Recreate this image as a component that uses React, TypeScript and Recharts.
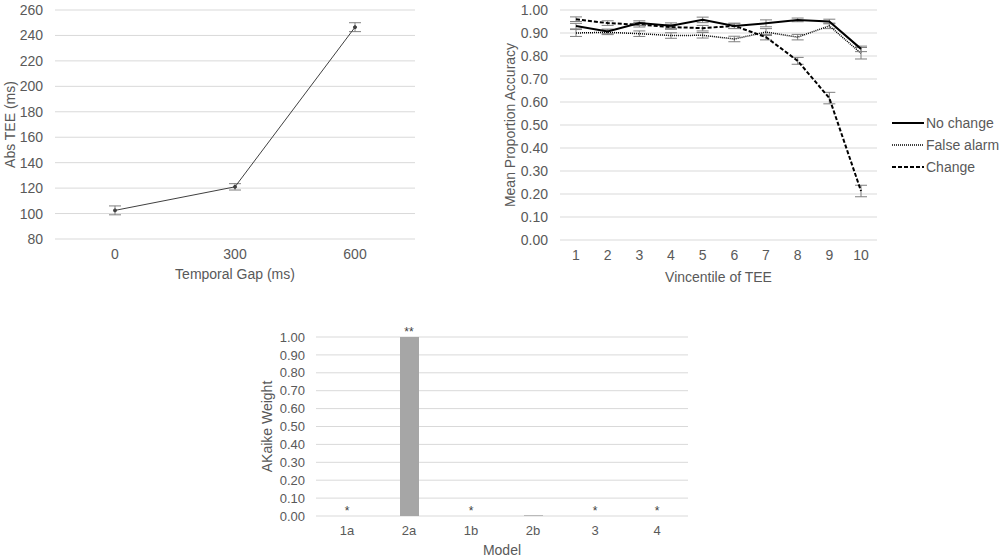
import React from "react";
import {
  LineChart,
  Line,
  ComposedChart,
  Bar,
  XAxis,
  YAxis,
  CartesianGrid,
  ErrorBar,
  LabelList,
} from "recharts";

// Top left: Abs TEE by temporal gap
const gapLabels = ["0", "300", "600"];
const teeMeans = [102.5, 121, 246.5];
const teeErr = [3.5, 2.5, 3.5];
const teeTicks = [80, 100, 120, 140, 160, 180, 200, 220, 240, 260];

// Top right: accuracy by vincentile
const vincentiles = ["1", "2", "3", "4", "5", "6", "7", "8", "9", "10"];
const noChange = [0.93, 0.907, 0.943, 0.932, 0.957, 0.93, 0.942, 0.957, 0.95, 0.831];
const noChangeErr = [0.012, 0.01, 0.01, 0.012, 0.012, 0.01, 0.015, 0.008, 0.01, 0.012];
const falseAlarm = [0.9, 0.903, 0.897, 0.889, 0.89, 0.874, 0.904, 0.882, 0.931, 0.812];
const falseAlarmErr = [0.015, 0.01, 0.012, 0.012, 0.012, 0.012, 0.015, 0.012, 0.012, 0.025];
const change = [0.96, 0.943, 0.936, 0.926, 0.921, 0.931, 0.882, 0.779, 0.617, 0.213];
const changeErr = [0.01, 0.01, 0.01, 0.01, 0.012, 0.012, 0.012, 0.015, 0.025, 0.025];
const accTicks = [0, 0.1, 0.2, 0.3, 0.4, 0.5, 0.6, 0.7, 0.8, 0.9, 1];

// Bottom: Akaike weights
const models = ["1a", "2a", "1b", "2b", "3", "4"];
const weights = [0, 1, 0, 0.004, 0, 0];
const marks = ["*", "**", "*", "", "*", "*"];

const FONT = "'Liberation Sans', Arial, sans-serif";
const TXT = "#595959";
const GRID = "#d9d9d9";
const ERR = "#7f7f7f";

const teeData = gapLabels.map((g, i) => ({ gap: g, tee: teeMeans[i], err: teeErr[i] }));
const accData = vincentiles.map((v, i) => ({
  v,
  noChange: noChange[i],
  ncErr: noChangeErr[i],
  falseAlarm: falseAlarm[i],
  faErr: falseAlarmErr[i],
  change: change[i],
  chErr: changeErr[i],
}));
const akData = models.map((m, i) => ({ model: m, w: weights[i], mark: marks[i] }));

const legendItems = [
  { name: "No change", dash: undefined, width: 2 },
  { name: "False alarm", dash: "1 1", width: 1.5 },
  { name: "Change", dash: "4 2", width: 2 },
];

const tickStyle = { fill: TXT, fontSize: 14, fontFamily: FONT };
const tickStyleSm = { fill: TXT, fontSize: 13, fontFamily: FONT };
const labelStyle = { fill: TXT, fontSize: 14, fontFamily: FONT, textAnchor: "middle" as const };

export default function App() {
  return (
    <div style={{ position: "absolute", left: 0, top: 0, width: 1000, height: 558, background: "#fff" }}>
      <div style={{ position: "absolute", left: 0, top: 0 }}>
        <LineChart width={430} height={290} data={teeData} margin={{ top: 10, right: 15, left: 0, bottom: 11 }}>
          <CartesianGrid vertical={false} stroke={GRID} />
          <XAxis
            dataKey="gap"
            axisLine={false}
            tickLine={false}
            tickMargin={4}
            height={40}
            padding={{ left: 60, right: 60 }}
            tick={tickStyle}
            label={{ value: "Temporal Gap (ms)", position: "insideBottom", offset: 0, style: labelStyle }}
          />
          <YAxis
            domain={[80, 260]}
            ticks={teeTicks}
            interval={0}
            axisLine={false}
            tickLine={false}
            tickMargin={6}
            width={55}
            tick={tickStyle}
            label={{ value: "Abs TEE (ms)", angle: -90, position: "insideLeft", offset: 10, style: labelStyle }}
          />
          <Line
            dataKey="tee"
            stroke="#404040"
            strokeWidth={1}
            dot={{ r: 1.5, fill: "#404040", stroke: "#404040" }}
            isAnimationActive={false}
          >
            <ErrorBar dataKey="err" width={6} stroke={ERR} strokeWidth={1} />
          </Line>
        </LineChart>
      </div>

      <div style={{ position: "absolute", left: 500, top: 0 }}>
        <LineChart width={500} height={290} data={accData} margin={{ top: 10, right: 123, left: 0, bottom: 8 }}>
          <CartesianGrid vertical={false} stroke={GRID} />
          <XAxis
            dataKey="v"
            axisLine={false}
            tickLine={false}
            tickMargin={4}
            height={42}
            padding={{ left: 16, right: 16 }}
            tick={tickStyle}
            label={{ value: "Vincentile of TEE", position: "insideBottom", offset: 0, style: labelStyle }}
          />
          <YAxis
            domain={[0, 1]}
            ticks={accTicks}
            interval={0}
            tickFormatter={(t: number) => t.toFixed(2)}
            axisLine={false}
            tickLine={false}
            tickMargin={6}
            width={60}
            tick={tickStyle}
            label={{ value: "Mean Proportion Accuracy", angle: -90, position: "insideLeft", offset: 10, style: labelStyle }}
          />
          <Line dataKey="falseAlarm" stroke="#000" strokeWidth={1.5} strokeDasharray="1 1" dot={false} isAnimationActive={false}>
            <ErrorBar dataKey="faErr" width={6} stroke={ERR} strokeWidth={1} />
          </Line>
          <Line dataKey="change" stroke="#000" strokeWidth={2} strokeDasharray="4 2" dot={false} isAnimationActive={false}>
            <ErrorBar dataKey="chErr" width={6} stroke={ERR} strokeWidth={1} />
          </Line>
          <Line dataKey="noChange" stroke="#000" strokeWidth={2} dot={false} isAnimationActive={false}>
            <ErrorBar dataKey="ncErr" width={6} stroke={ERR} strokeWidth={1} />
          </Line>
        </LineChart>
      </div>

      <svg style={{ position: "absolute", left: 890, top: 110 }} width={110} height={70}>
        {legendItems.map((it, i) => (
          <g key={it.name} transform={`translate(0, ${13 + i * 22})`}>
            <line x1={2} x2={34} y1={0} y2={0} stroke="#000" strokeWidth={it.width} strokeDasharray={it.dash} />
            <text x={36} y={5} fill={TXT} fontSize={14} fontFamily={FONT}>
              {it.name}
            </text>
          </g>
        ))}
      </svg>

      <div style={{ position: "absolute", left: 250, top: 320 }}>
        <ComposedChart width={460} height={238} data={akData} margin={{ top: 17, right: 22, left: 0, bottom: 3 }}>
          <CartesianGrid vertical={false} stroke={GRID} />
          <XAxis
            dataKey="model"
            axisLine={false}
            tickLine={false}
            tickMargin={4}
            height={39}
            tick={tickStyleSm}
            label={{ value: "Model", position: "insideBottom", offset: 0, style: labelStyle }}
          />
          <YAxis
            domain={[0, 1]}
            ticks={accTicks}
            interval={0}
            tickFormatter={(t: number) => t.toFixed(2)}
            axisLine={false}
            tickLine={false}
            tickMargin={5}
            width={66}
            tick={tickStyleSm}
            label={{ value: "AKaike Weight", angle: -90, position: "insideLeft", offset: 17, style: labelStyle }}
          />
          <Bar dataKey="w" fill="#a6a6a6" barSize={19} isAnimationActive={false} />
          <Line dataKey="w" stroke="none" dot={false} activeDot={false} isAnimationActive={false}>
            <LabelList
              dataKey="mark"
              position="top"
              offset={1}
              fill="#404040"
              stroke="none"
              fontSize={12}
              fontFamily={FONT}
            />
          </Line>
        </ComposedChart>
      </div>
    </div>
  );
}
